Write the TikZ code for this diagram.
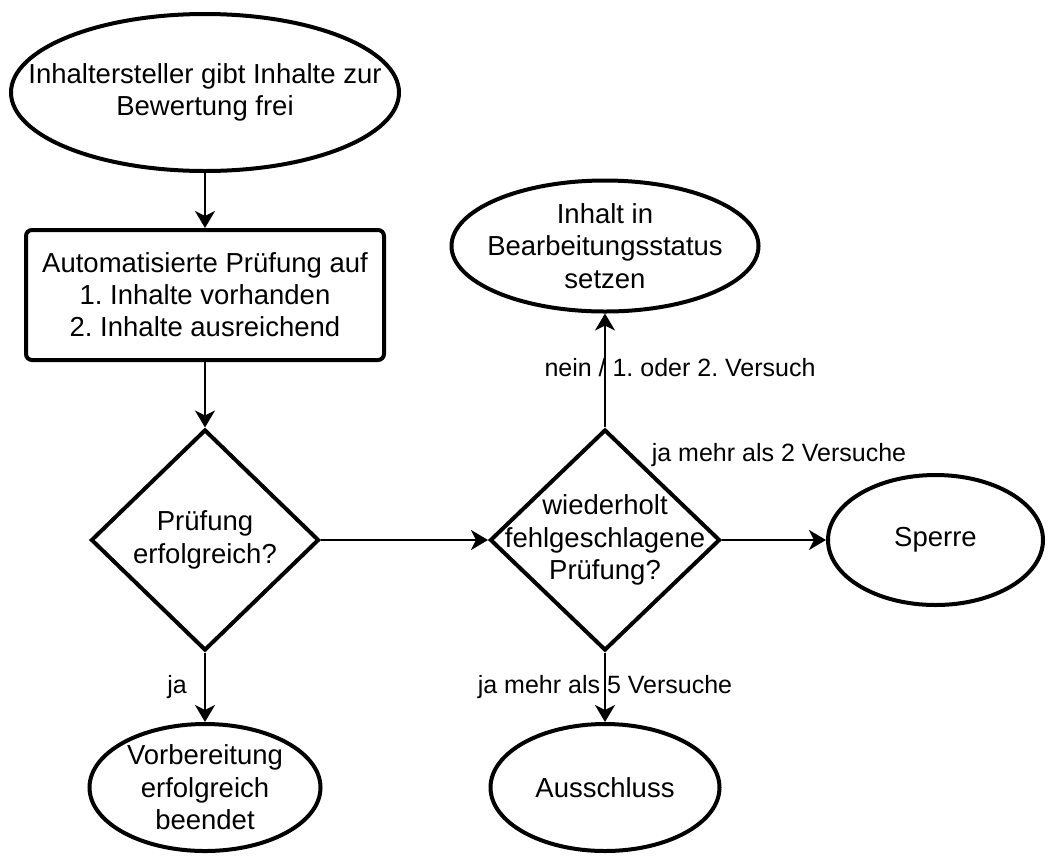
\documentclass[tikz,border=0pt]{standalone}
\usepackage{fontspec}
\setmainfont{Liberation Sans}
\usetikzlibrary{shapes.geometric,arrows.meta}
\frenchspacing
\begin{document}
\begin{tikzpicture}[x=1pt,y=-1pt,
  base/.style={draw=black, line width=4pt, inner sep=0pt, align=center,
    font=\fontsize{27.5}{32}\selectfont},
  oval/.style={base, ellipse},
  procbox/.style={base, rectangle, rounded corners=6pt},
  dec/.style={base, diamond},
  txt/.style={align=center, inner sep=0pt, font=\fontsize{27.5}{32.5}\selectfont},
  conn/.style={line width=2.3pt, -{Stealth[length=17pt,width=20pt,inset=5pt]}},
  lbl/.style={inner sep=0pt, font=\fontsize{25}{30}\selectfont}
]
\useasboundingbox (0,0) rectangle (1048,855);

\node[oval, minimum width=388, minimum height=157,
  label={[txt]center:Inhaltersteller gibt Inhalte zur\\Bewertung frei}] (start) at (205,92.5) {};
\node[procbox, minimum width=358, minimum height=130] (box) at (205,295)
  {Automatisierte Prüfung auf\\1. Inhalte vorhanden\\2. Inhalte ausreichend};
\node[dec, minimum width=228, minimum height=221,
  label={[txt]center:Prüfung\\erfolgreich?}] (d1) at (205,540) {};
\node[oval, minimum width=231, minimum height=127,
  label={[txt]center:Vorbereitung\\erfolgreich\\beendet}] (vor) at (205,787.5) {};
\node[dec, minimum width=230, minimum height=221,
  label={[txt]center:wiederholt\\fehlgeschlagene\\Prüfung?}] (d2) at (605,540) {};
\node[oval, minimum width=307, minimum height=131,
  label={[txt]center:Inhalt in\\Bearbeitungsstatus\\setzen}] (inh) at (605,246) {};
\node[oval, minimum width=215, minimum height=130,
  label={[txt]center:Sperre}] (sperre) at (935.5,540) {};
\node[oval, minimum width=229, minimum height=127,
  label={[txt]center:Ausschluss}] (aus) at (605,787.5) {};

\node[lbl] (lja) at (177,687) {ja};
\node[lbl] (lnein) at (680,368) {nein / 1. oder 2. Versuch};
\node[lbl] (lzwei) at (779,455) {ja mehr als 2 Versuche};
\node[lbl] (lfuenf) at (605,687) {ja mehr als 5 Versuche};

\draw[conn] (start) -- (box);
\draw[conn] (box) -- (d1);
\draw[conn] (d1) -- (vor);
\draw[conn] (d1) -- (d2);
\draw[conn] (d2) -- (inh);
\draw[conn] (d2) -- (sperre);
\draw[conn] (d2) -- (aus);
\end{tikzpicture}
\end{document}
